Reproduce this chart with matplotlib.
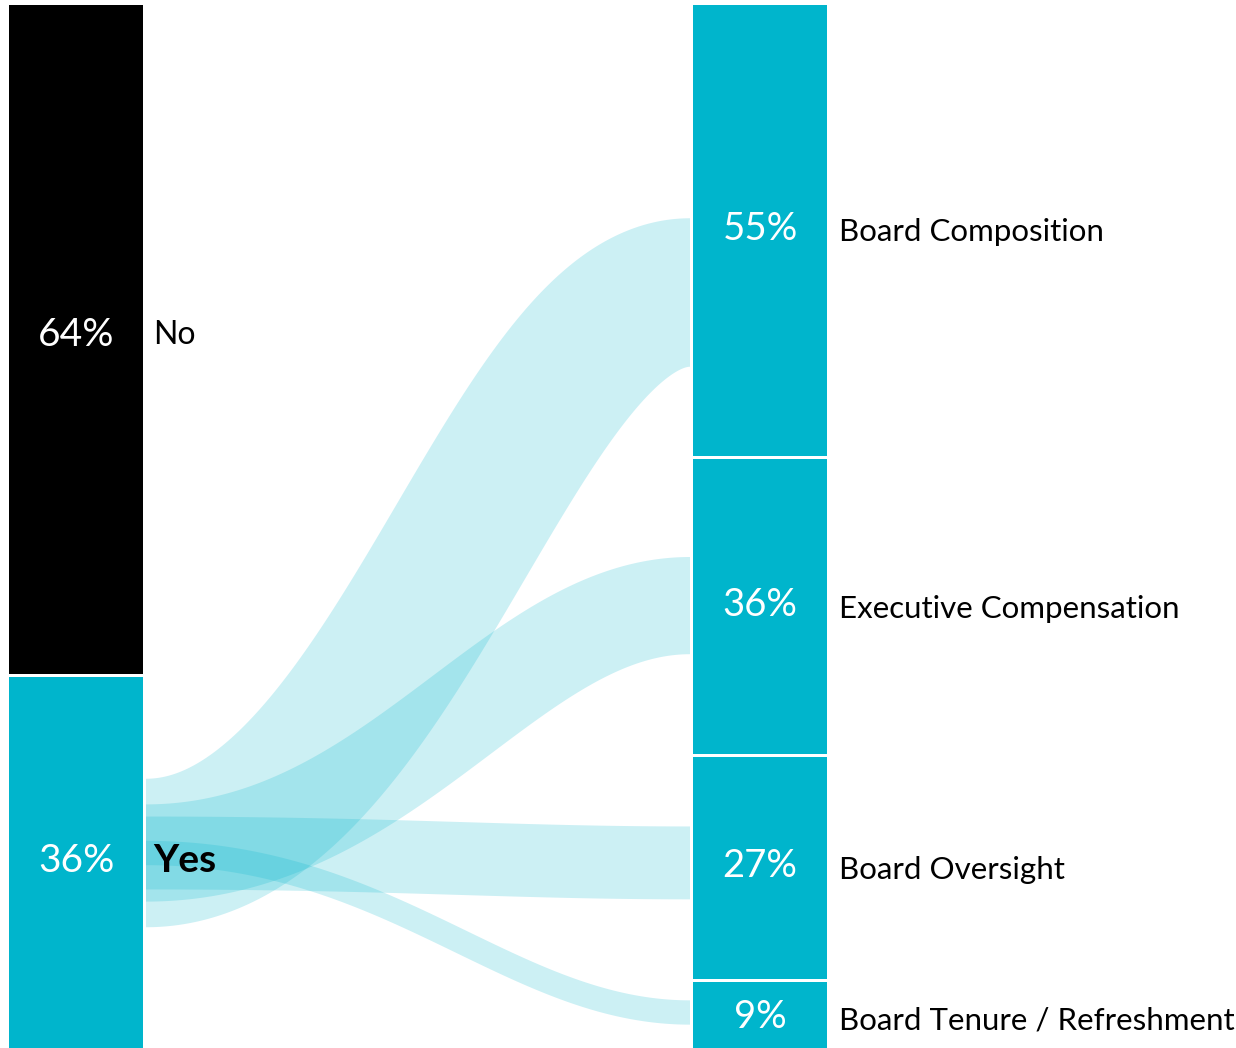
import numpy as np
import matplotlib
matplotlib.use("Agg")
import matplotlib.pyplot as plt

plt.rcParams["font.family"] = ["Lato", "DejaVu Sans"]

# answer split (left column)
answers = ["No", "Yes"]
answer_pct = [64, 36]
answer_colors = ["#000000", "#00B5CC"]

# topics among "Yes" (right column)
topics = ["Board Composition", "Executive Compensation", "Board Oversight",
          "Board Tenure / Refreshment"]
topic_pct = [55, 36, 27, 9]

TEAL = "#00B5CC"

# layout, in pixels of a 1236 x 1048 canvas
W, H = 1236, 1048
top = 5
gap = 3
left_x0, left_x1 = 9, 143
right_x0, right_x1 = 693, 827
left_scale = 10.45     # px per percent, left column
right_scale = 8.2      # px per percent, right column
flow_scale = 2.7       # px per percent, link width
flow_x0, flow_x1 = 146, 690
flow_src_y = 853
flow_dst_shift = [62, -1, -5, -6]
bend_in, bend_out = 0.45, 0.33   # control-point reach at each end of a link

fig = plt.figure(figsize=(W / 100, H / 100), dpi=100)
ax = fig.add_axes([0, 0, 1, 1])
ax.set_xlim(0, W)
ax.set_ylim(H, 0)
ax.axis("off")


def band(ax, x0, y0, x1, y1, width, k0=0.5, k1=0.5, n=300):
    """Stroke-like sankey link: cubic bezier centre line, perpendicular width."""
    t = np.linspace(0, 1, n)[:, None]
    P0 = np.array([x0, y0]); P3 = np.array([x1, y1])
    P1 = np.array([x0 + k0 * (x1 - x0), y0]); P2 = np.array([x1 - k1 * (x1 - x0), y1])
    C = (1 - t) ** 3 * P0 + 3 * (1 - t) ** 2 * t * P1 + 3 * (1 - t) * t ** 2 * P2 + t ** 3 * P3
    D = 3 * (1 - t) ** 2 * (P1 - P0) + 6 * (1 - t) * t * (P2 - P1) + 3 * t ** 2 * (P3 - P2)
    D = D / np.linalg.norm(D, axis=1, keepdims=True)
    N = np.column_stack([D[:, 1], -D[:, 0]])
    upper = C + width / 2 * N
    lower = C - width / 2 * N
    poly = np.vstack([upper, lower[::-1]])
    ax.fill(poly[:, 0], poly[:, 1], color=TEAL, alpha=0.2, lw=0, zorder=1)


# left column
y = top
left_mid = []
for name, pct, col in zip(answers, answer_pct, answer_colors):
    h = pct * left_scale
    ax.bar((left_x0 + left_x1) / 2, h, bottom=y, width=left_x1 - left_x0,
           color=col, lw=0, zorder=2)
    left_mid.append(y + h / 2)
    y += h + gap

# right column
y = top
right_mid = []
for name, pct in zip(topics, topic_pct):
    h = pct * right_scale
    ax.bar((right_x0 + right_x1) / 2, h, bottom=y, width=right_x1 - right_x0,
           color=TEAL, lw=0, zorder=2)
    right_mid.append(y + h / 2)
    y += h + gap

# links from "Yes" to each topic
for pct, mid, shift in zip(topic_pct, right_mid, flow_dst_shift):
    band(ax, flow_x0, flow_src_y, flow_x1, mid + shift, pct * flow_scale,
         k0=bend_in, k1=bend_out)

# labels
cx_left = (left_x0 + left_x1) / 2
cx_right = (right_x0 + right_x1) / 2
for name, pct, mid in zip(answers, answer_pct, left_mid):
    ax.text(cx_left, mid - 4, f"{pct}%", color="white", fontsize=28,
            ha="center", va="center", zorder=3)
    ax.text(153, mid - 4, name, color="black", fontsize=28 if name == "Yes" else 23,
            fontweight="bold" if name == "Yes" else "normal",
            ha="left", va="center", zorder=3)
for name, pct, mid in zip(topics, topic_pct, right_mid):
    ax.text(cx_right, mid - 2, f"{pct}%", color="white", fontsize=27.5,
            ha="center", va="center", zorder=3)
    ax.text(839, mid + 2, name, color="black", fontsize=22.5,
            ha="left", va="center", zorder=3)

fig.savefig("out.png", dpi=100)
